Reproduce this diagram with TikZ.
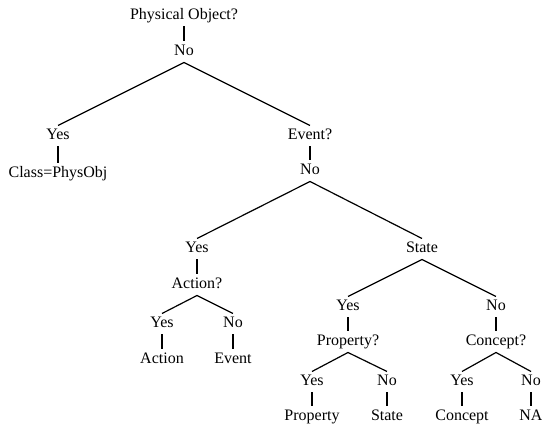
\documentclass[tikz,border=0pt]{standalone}
\usepackage{fontspec}
\setmainfont{Liberation Serif}
\begin{document}
\begin{tikzpicture}[x=1pt,y=-1pt]
\tikzset{
  lbl/.style={inner sep=0pt,outer ysep=3pt,text height=11pt,text depth=4pt,
    font=\fontsize{16pt}{19pt}\selectfont},
  branch/.style={-,line width=1.2pt},
  stem/.style={-,line width=2pt}
}
\useasboundingbox (0,0) rectangle (542,427);

% nós do topo
\node[lbl] (phys) at (184,16)  {Physical Object?};
\node[lbl] (no1)  at (184,52)  {No};
\node[lbl] (yes1) at (58,136)  {Yes};
\node[lbl] (cls)  at (58,174)  {Class=PhysObj};
\node[lbl] (evq)  at (310,136) {Event?};
\node[lbl] (no2)  at (310,171) {No};

% ramo Action?
\node[lbl] (yes2)  at (197,249) {Yes};
\node[lbl] (actq)  at (197,285) {Action?};
\node[lbl] (yesA)  at (162,324) {Yes};
\node[lbl] (noA)   at (233,324) {No};
\node[lbl] (act)   at (162,360) {Action};
\node[lbl] (ev)    at (233,360) {Event};

% ramo State
\node[lbl] (state) at (422,249) {State};
\node[lbl] (yesS)  at (348,307) {Yes};
\node[lbl] (noS)   at (496,307) {No};
\node[lbl] (propq) at (348,342) {Property?};
\node[lbl] (conq)  at (496,342) {Concept?};
\node[lbl] (yesP)  at (312,382) {Yes};
\node[lbl] (noP)   at (387,382) {No};
\node[lbl] (prop)  at (312,417) {Property};
\node[lbl] (st)    at (387,417) {State};
\node[lbl] (yesC)  at (462,382) {Yes};
\node[lbl] (noC)   at (531,382) {No};
\node[lbl] (con)   at (462,417) {Concept};
\node[lbl] (na)    at (531,417) {NA};

% traços verticais
\draw[stem] (phys.south)  -- (no1.north);
\draw[stem] (yes1.south)  -- (cls.north);
\draw[stem] (evq.south)   -- (no2.north);
\draw[stem] (yes2.south)  -- (actq.north);
\draw[stem] (yesA.south)  -- (act.north);
\draw[stem] (noA.south)   -- (ev.north);
\draw[stem] (yesS.south)  -- (propq.north);
\draw[stem] (noS.south)   -- (conq.north);
\draw[stem] (yesP.south)  -- (prop.north);
\draw[stem] (noP.south)   -- (st.north);
\draw[stem] (yesC.south)  -- (con.north);
\draw[stem] (noC.south)   -- (na.north);

% ramificações
\draw[branch] (yes1.north) -- (no1.south) -- (evq.north);
\draw[branch] (yes2.north) -- (no2.south) -- (state.north);
\draw[branch] (yesA.north) -- (actq.south) -- (noA.north);
\draw[branch] (yesS.north) -- (state.south) -- (noS.north);
\draw[branch] (yesP.north) -- (propq.south) -- (noP.north);
\draw[branch] (yesC.north) -- (conq.south) -- (noC.north);
\end{tikzpicture}
\end{document}
